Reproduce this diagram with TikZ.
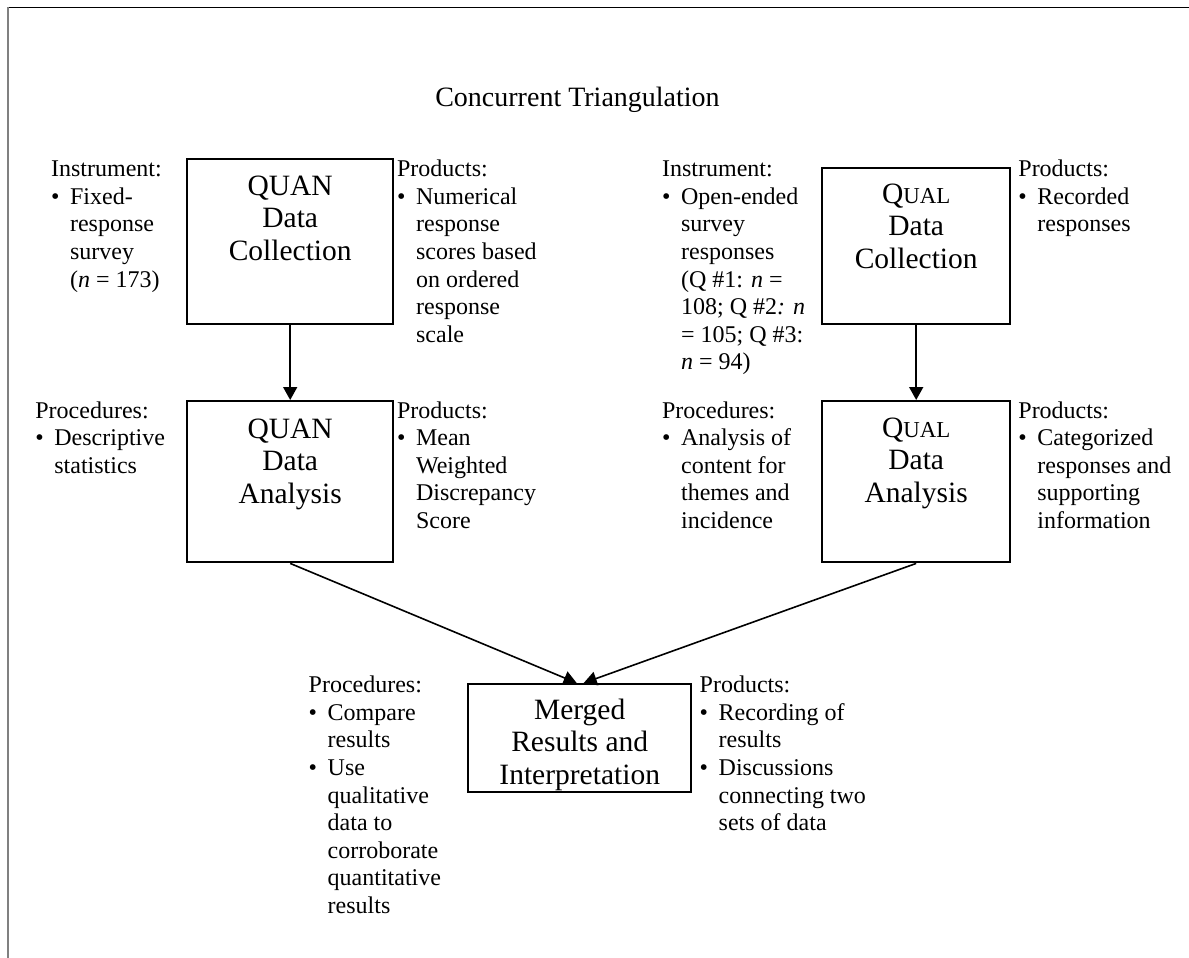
\documentclass[tikz,border=0pt]{standalone}
\usepackage{fontspec}
\setmainfont{Liberation Serif}
\usetikzlibrary{arrows.meta,calc}
\newcommand{\bl}[1]{\makebox[9.5pt][l]{\textbullet}#1}
\newcommand{\ct}[1]{\hspace*{9.5pt}#1}
\newcommand{\qualsc}{Q{\fontsize{11.4pt}{13pt}\selectfont UAL}}
\tikzset{
  txt/.style={inner sep=0pt, anchor=base west, font=\fontsize{12pt}{13.8pt}\selectfont},
  boxtxt/.style={inner sep=0pt, anchor=base, font=\fontsize{14.75pt}{16.4pt}\selectfont},
  stagebox/.style={draw, line width=1.2pt, anchor=north west, inner sep=0pt},
  arr/.style={line width=0.8pt, -{Triangle[length=6.5pt,width=7pt]}}
}
\begin{document}
\begin{tikzpicture}[x=0.5pt,y=-0.5pt]
\useasboundingbox (0,0) rectangle (1189,958);
% frame
\draw[line width=0.5pt] (7,7) -- (1189,7);
\draw[line width=1pt, gray] (8,7) -- (8,958);
% title
\node[inner sep=0pt, anchor=base, font=\fontsize{14pt}{16pt}\selectfont] (title) at (577.5,106.7) {Concurrent Triangulation};
% boxes
\node[stagebox, minimum width=103pt, minimum height=82.5pt] (b1) at (186,158) {};
\node[stagebox, minimum width=103pt, minimum height=80.5pt] (b2) at (186,400) {};
\node[stagebox, minimum width=94pt, minimum height=78pt] (b3) at (821,167) {};
\node[stagebox, minimum width=94pt, minimum height=80.5pt] (b4) at (821,400) {};
\node[stagebox, minimum width=111.5pt, minimum height=54pt] (b5) at (467,683) {};
% box texts
\node[boxtxt] (t1) at ($(b1.north)+(0,37)$) {\begin{tabular}[t]{@{}c@{}}QUAN\\Data\\Collection\end{tabular}};
\node[boxtxt] (t2) at ($(b2.north)+(0,38)$) {\begin{tabular}[t]{@{}c@{}}QUAN\\Data\\Analysis\end{tabular}};
\node[boxtxt] (t3) at ($(b3.north)+(0,36)$) {\begin{tabular}[t]{@{}c@{}}\qualsc\\Data\\Collection\end{tabular}};
\node[boxtxt] (t4) at ($(b4.north)+(0,37)$) {\begin{tabular}[t]{@{}c@{}}\qualsc\\Data\\Analysis\end{tabular}};
\node[boxtxt] (t5) at ($(b5.north)+(0,36)$) {\begin{tabular}[t]{@{}c@{}}Merged\\Results and\\Interpretation\end{tabular}};
% side texts
\node[txt] (i1) at (50.7,176.7) {\begin{tabular}[t]{@{}l@{}}Instrument:\\\bl{Fixed-}\\\ct{response}\\\ct{survey}\\\ct{(\textit{n} = 173)}\end{tabular}};
\node[txt] (p1) at (396.7,176.7) {\begin{tabular}[t]{@{}l@{}}Products:\\\bl{Numerical}\\\ct{response}\\\ct{scores based}\\\ct{on ordered}\\\ct{response}\\\ct{scale}\end{tabular}};
\node[txt] (i3) at (661.7,176.7) {\begin{tabular}[t]{@{}l@{}}Instrument:\\\bl{Open-ended}\\\ct{survey}\\\ct{responses}\\\ct{(Q \#1: \textit{n} =}\\\ct{108; Q \#2\textit{: n}}\\\ct{= 105; Q \#3:}\\\ct{\textit{n} = 94)}\end{tabular}};
\node[txt] (p3) at (1018,176.7) {\begin{tabular}[t]{@{}l@{}}Products:\\\bl{Recorded}\\\ct{responses}\end{tabular}};
\node[txt] (r2) at (35,418) {\begin{tabular}[t]{@{}l@{}}Procedures:\\\bl{Descriptive}\\\ct{statistics}\end{tabular}};
\node[txt] (p2) at (396.7,418) {\begin{tabular}[t]{@{}l@{}}Products:\\\bl{Mean}\\\ct{Weighted}\\\ct{Discrepancy}\\\ct{Score}\end{tabular}};
\node[txt] (r4) at (661.7,418) {\begin{tabular}[t]{@{}l@{}}Procedures:\\\bl{Analysis of}\\\ct{content for}\\\ct{themes and}\\\ct{incidence}\end{tabular}};
\node[txt] (p4) at (1018,418) {\begin{tabular}[t]{@{}l@{}}Products:\\\bl{Categorized}\\\ct{responses and}\\\ct{supporting}\\\ct{information}\end{tabular}};
\node[txt] (r5) at (308.3,692.7) {\begin{tabular}[t]{@{}l@{}}Procedures:\\\bl{Compare}\\\ct{results}\\\bl{Use}\\\ct{qualitative}\\\ct{data to}\\\ct{corroborate}\\\ct{quantitative}\\\ct{results}\end{tabular}};
\node[txt] (p5) at (699.3,692.7) {\begin{tabular}[t]{@{}l@{}}Products:\\\bl{Recording of}\\\ct{results}\\\bl{Discussions}\\\ct{connecting two}\\\ct{sets of data}\end{tabular}};
% arrows
\draw[arr] (b1.south) -- (b2.north);
\draw[arr] (b3.south) -- (b4.north);
\coordinate (m1) at ($(b5.north)+(-3,0)$);
\coordinate (m2) at ($(b5.north)+(4,0)$);
\draw[arr] (b2.south) -- (m1);
\draw[arr] (b4.south) -- (m2);
\end{tikzpicture}
\end{document}
